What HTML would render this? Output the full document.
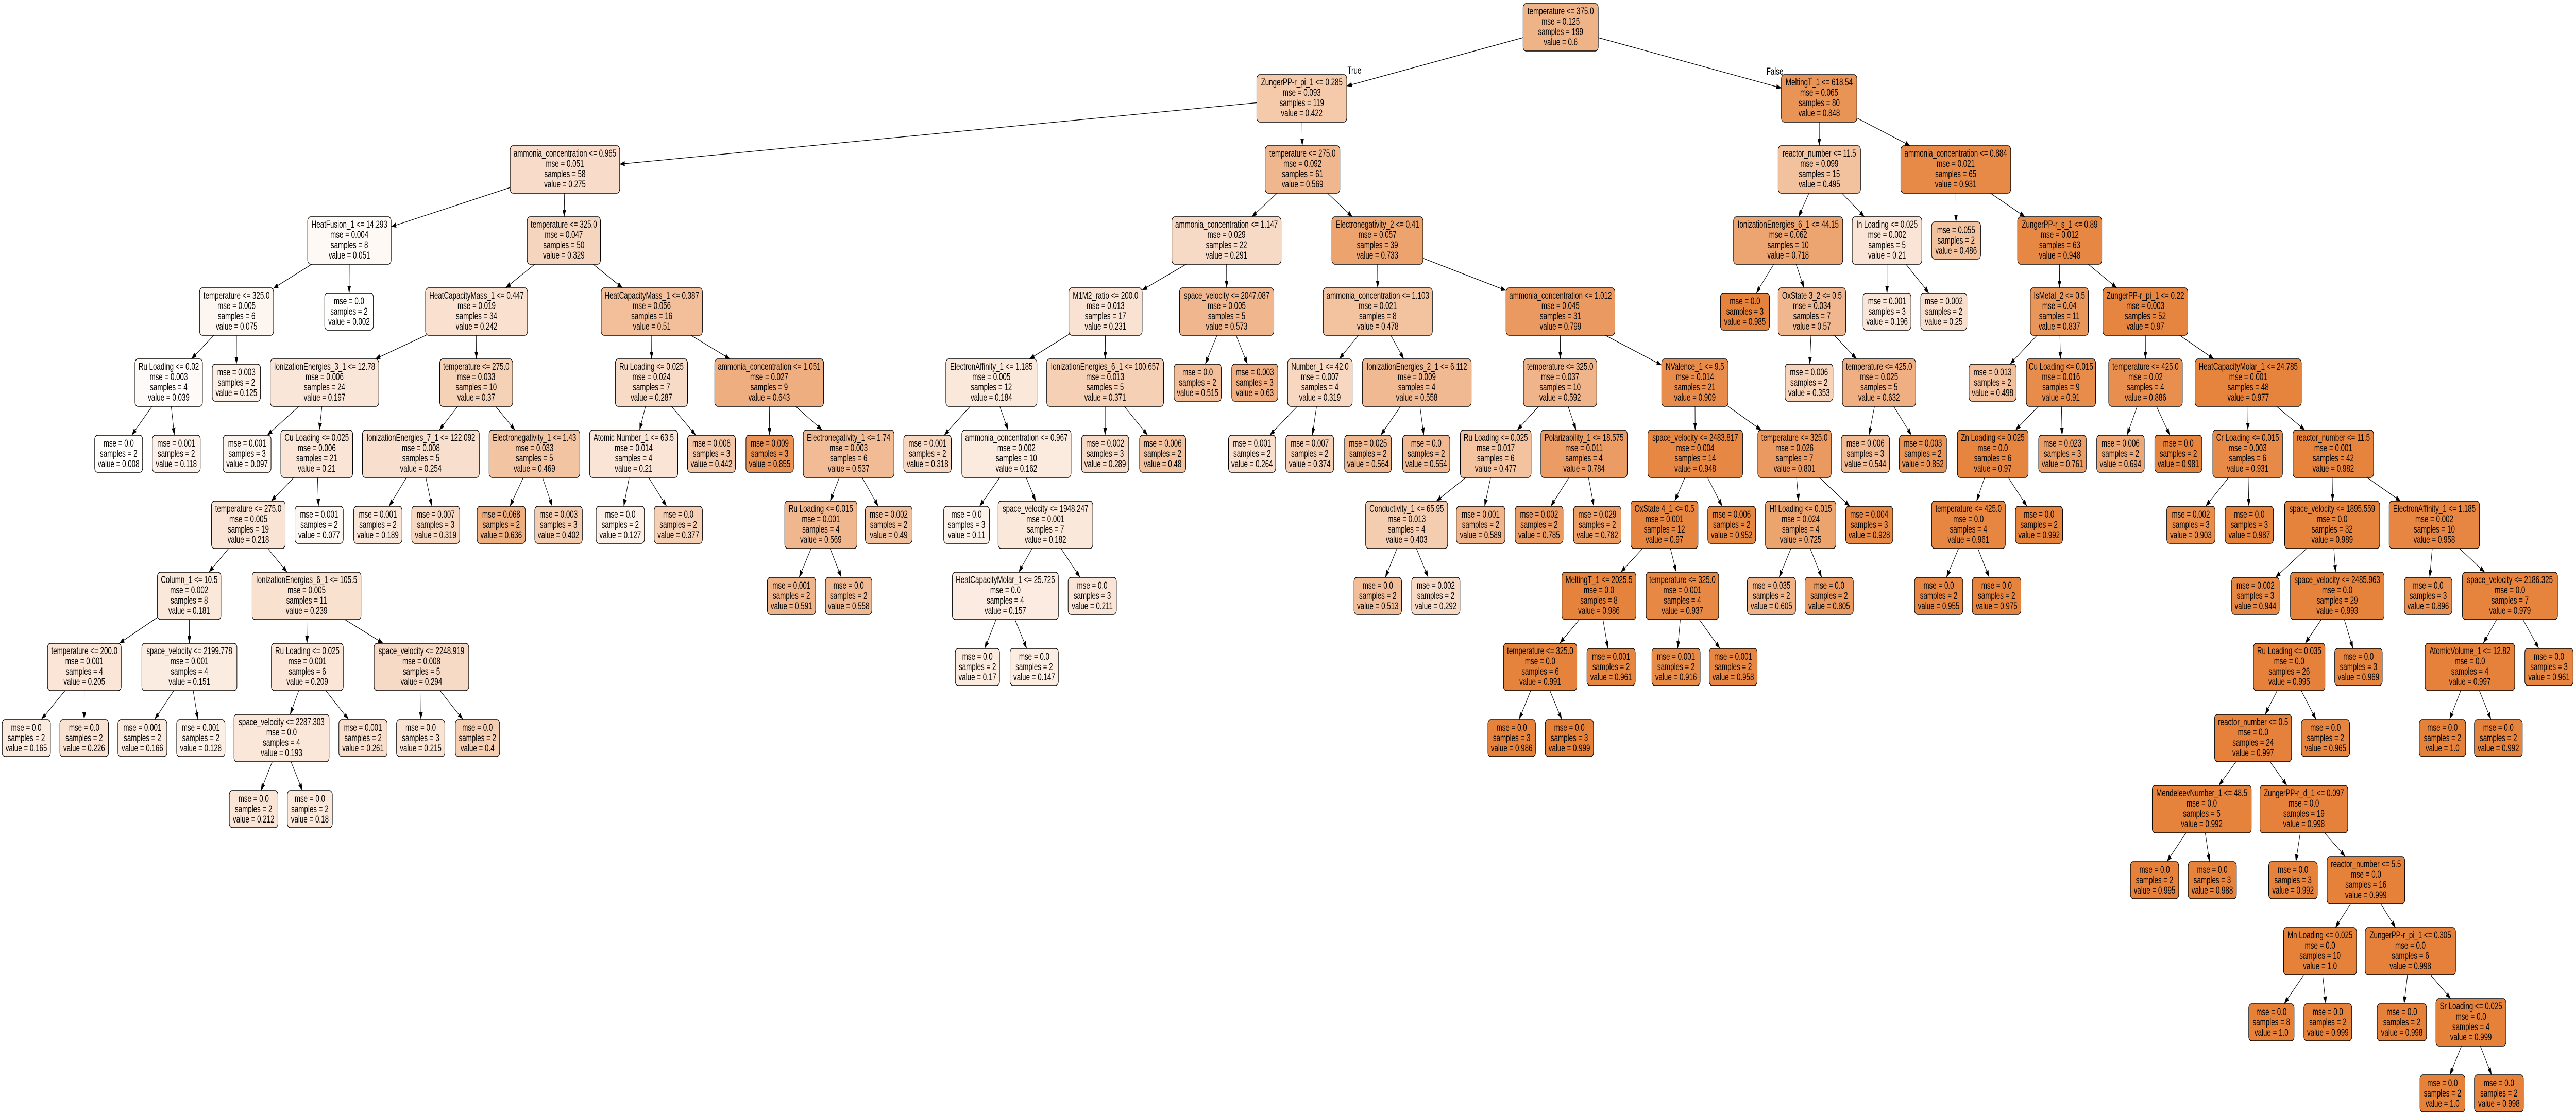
<!DOCTYPE html>
<html><head><meta charset="utf-8"><style>
html,body{margin:0;padding:0;background:#fff;width:100%;height:100%;overflow:hidden}
#root{display:block;width:100vw;height:100vh}
svg svg{overflow:visible}
rect{width:100%;height:100%;rx:8px;ry:8px;fill:#fff}
rect.c{fill:#e58139;stroke:#000;stroke-width:1.4}
text{font-family:"Liberation Sans",sans-serif;font-size:19px;text-anchor:middle;fill:#000}
line{stroke:#000;stroke-width:1.3}
</style></head><body>
<svg id="root" viewBox="0 0 7100 2161" preserveAspectRatio="none" xmlns="http://www.w3.org/2000/svg">
<defs><marker id="a" markerUnits="userSpaceOnUse" markerWidth="14" markerHeight="10" refX="14" refY="5" orient="auto"><path d="M0,0L14,5L0,10z" fill="#000"/></marker></defs>
<g>
<line x1="4301.5" y1="53" x2="3712" y2="167" marker-end="url(#a)"/>
<line x1="4301.5" y1="53" x2="4910" y2="171" marker-end="url(#a)"/>
<line x1="3588" y1="191" x2="1708" y2="318.7" marker-end="url(#a)"/>
<line x1="3588" y1="191" x2="3589.3" y2="283" marker-end="url(#a)"/>
<line x1="5014" y1="191" x2="5014.3" y2="283" marker-end="url(#a)"/>
<line x1="5014" y1="191" x2="5265" y2="283" marker-end="url(#a)"/>
<line x1="1557" y1="329" x2="1078" y2="440.3" marker-end="url(#a)"/>
<line x1="1557" y1="329" x2="1555" y2="421" marker-end="url(#a)"/>
<line x1="3590" y1="329" x2="3450.3" y2="421" marker-end="url(#a)"/>
<line x1="3590" y1="329" x2="3727.7" y2="421" marker-end="url(#a)"/>
<line x1="5014.5" y1="329" x2="4957.2" y2="421" marker-end="url(#a)"/>
<line x1="5014.5" y1="329" x2="5138.8" y2="421" marker-end="url(#a)"/>
<line x1="5390.5" y1="329" x2="5391.2" y2="431" marker-end="url(#a)"/>
<line x1="5390.5" y1="329" x2="5581.5" y2="421" marker-end="url(#a)"/>
<line x1="963" y1="467" x2="753" y2="560" marker-end="url(#a)"/>
<line x1="963" y1="467" x2="962.3" y2="569" marker-end="url(#a)"/>
<line x1="1554" y1="467" x2="1393.7" y2="559" marker-end="url(#a)"/>
<line x1="1554" y1="467" x2="1715.7" y2="559" marker-end="url(#a)"/>
<line x1="3380.5" y1="467" x2="3148" y2="563.2" marker-end="url(#a)"/>
<line x1="3380.5" y1="467" x2="3380.8" y2="559" marker-end="url(#a)"/>
<line x1="3796.5" y1="467" x2="3797.2" y2="559" marker-end="url(#a)"/>
<line x1="3796.5" y1="467" x2="4151" y2="564" marker-end="url(#a)"/>
<line x1="4928.5" y1="467" x2="4840.6" y2="569" marker-end="url(#a)"/>
<line x1="4928.5" y1="467" x2="4972.2" y2="559" marker-end="url(#a)"/>
<line x1="5201" y1="467" x2="5201" y2="569" marker-end="url(#a)"/>
<line x1="5201" y1="467" x2="5316.7" y2="569" marker-end="url(#a)"/>
<line x1="5677" y1="467" x2="5676.3" y2="559" marker-end="url(#a)"/>
<line x1="5677" y1="467" x2="5834.3" y2="559" marker-end="url(#a)"/>
<line x1="652" y1="605" x2="527.3" y2="697" marker-end="url(#a)"/>
<line x1="652" y1="605" x2="651.6" y2="707" marker-end="url(#a)"/>
<line x1="1313.5" y1="605" x2="1034.2" y2="697" marker-end="url(#a)"/>
<line x1="1313.5" y1="605" x2="1312.8" y2="697" marker-end="url(#a)"/>
<line x1="1796.5" y1="605" x2="1795.8" y2="697" marker-end="url(#a)"/>
<line x1="1796.5" y1="605" x2="2012.2" y2="697" marker-end="url(#a)"/>
<line x1="3047" y1="605" x2="2837.3" y2="697" marker-end="url(#a)"/>
<line x1="3047" y1="605" x2="3046.3" y2="697" marker-end="url(#a)"/>
<line x1="3381" y1="605" x2="3321.9" y2="707" marker-end="url(#a)"/>
<line x1="3381" y1="605" x2="3438.3" y2="707" marker-end="url(#a)"/>
<line x1="3797.5" y1="605" x2="3691.2" y2="697" marker-end="url(#a)"/>
<line x1="3797.5" y1="605" x2="3869.2" y2="697" marker-end="url(#a)"/>
<line x1="4301" y1="605" x2="4300.3" y2="697" marker-end="url(#a)"/>
<line x1="4301" y1="605" x2="4580" y2="709" marker-end="url(#a)"/>
<line x1="4994" y1="605" x2="4988.1" y2="707" marker-end="url(#a)"/>
<line x1="4994" y1="605" x2="5117.3" y2="697" marker-end="url(#a)"/>
<line x1="5676" y1="605" x2="5540" y2="707" marker-end="url(#a)"/>
<line x1="5676" y1="605" x2="5679" y2="697" marker-end="url(#a)"/>
<line x1="5913" y1="605" x2="5913.3" y2="697" marker-end="url(#a)"/>
<line x1="5913" y1="605" x2="6102" y2="697" marker-end="url(#a)"/>
<line x1="465" y1="743" x2="363" y2="845" marker-end="url(#a)"/>
<line x1="465" y1="743" x2="480.5" y2="845" marker-end="url(#a)"/>
<line x1="894.5" y1="743" x2="736.7" y2="845" marker-end="url(#a)"/>
<line x1="894.5" y1="743" x2="880.2" y2="835" marker-end="url(#a)"/>
<line x1="1312.5" y1="743" x2="1210.8" y2="835" marker-end="url(#a)"/>
<line x1="1312.5" y1="743" x2="1419.5" y2="835" marker-end="url(#a)"/>
<line x1="1795.5" y1="743" x2="1762.8" y2="835" marker-end="url(#a)"/>
<line x1="1795.5" y1="743" x2="1917.8" y2="845" marker-end="url(#a)"/>
<line x1="2120" y1="743" x2="2121.1" y2="845" marker-end="url(#a)"/>
<line x1="2120" y1="743" x2="2266" y2="835" marker-end="url(#a)"/>
<line x1="2732.5" y1="743" x2="2602.4" y2="845" marker-end="url(#a)"/>
<line x1="2732.5" y1="743" x2="2778.5" y2="835" marker-end="url(#a)"/>
<line x1="3046" y1="743" x2="3046" y2="845" marker-end="url(#a)"/>
<line x1="3046" y1="743" x2="3163.2" y2="845" marker-end="url(#a)"/>
<line x1="3638" y1="743" x2="3499.8" y2="845" marker-end="url(#a)"/>
<line x1="3638" y1="743" x2="3617.3" y2="845" marker-end="url(#a)"/>
<line x1="3905" y1="743" x2="3805.6" y2="845" marker-end="url(#a)"/>
<line x1="3905" y1="743" x2="3924.2" y2="845" marker-end="url(#a)"/>
<line x1="4300" y1="743" x2="4181.7" y2="835" marker-end="url(#a)"/>
<line x1="4300" y1="743" x2="4344" y2="835" marker-end="url(#a)"/>
<line x1="4671.5" y1="743" x2="4672.2" y2="835" marker-end="url(#a)"/>
<line x1="4671.5" y1="743" x2="4854.5" y2="835" marker-end="url(#a)"/>
<line x1="5179" y1="743" x2="5151.3" y2="845" marker-end="url(#a)"/>
<line x1="5179" y1="743" x2="5268.4" y2="845" marker-end="url(#a)"/>
<line x1="5680.5" y1="743" x2="5555.2" y2="835" marker-end="url(#a)"/>
<line x1="5680.5" y1="743" x2="5683.5" y2="845" marker-end="url(#a)"/>
<line x1="5913.5" y1="743" x2="5862.5" y2="845" marker-end="url(#a)"/>
<line x1="5913.5" y1="743" x2="5980.4" y2="845" marker-end="url(#a)"/>
<line x1="6196.5" y1="743" x2="6195.5" y2="835" marker-end="url(#a)"/>
<line x1="6196.5" y1="743" x2="6352.8" y2="835" marker-end="url(#a)"/>
<line x1="873" y1="881" x2="747.3" y2="973" marker-end="url(#a)"/>
<line x1="873" y1="881" x2="877.8" y2="983" marker-end="url(#a)"/>
<line x1="1160" y1="881" x2="1072.4" y2="983" marker-end="url(#a)"/>
<line x1="1160" y1="881" x2="1190.3" y2="983" marker-end="url(#a)"/>
<line x1="1473" y1="881" x2="1405.4" y2="983" marker-end="url(#a)"/>
<line x1="1473" y1="881" x2="1522.1" y2="983" marker-end="url(#a)"/>
<line x1="1746.5" y1="881" x2="1719.2" y2="983" marker-end="url(#a)"/>
<line x1="1746.5" y1="881" x2="1837.4" y2="983" marker-end="url(#a)"/>
<line x1="2339" y1="881" x2="2288" y2="973" marker-end="url(#a)"/>
<line x1="2339" y1="881" x2="2420.7" y2="983" marker-end="url(#a)"/>
<line x1="2801.5" y1="881" x2="2699.9" y2="983" marker-end="url(#a)"/>
<line x1="2801.5" y1="881" x2="2854.8" y2="973" marker-end="url(#a)"/>
<line x1="4122.5" y1="881" x2="3958.8" y2="973" marker-end="url(#a)"/>
<line x1="4122.5" y1="881" x2="4091.8" y2="983" marker-end="url(#a)"/>
<line x1="4366" y1="881" x2="4274.3" y2="983" marker-end="url(#a)"/>
<line x1="4366" y1="881" x2="4393" y2="983" marker-end="url(#a)"/>
<line x1="4672.5" y1="881" x2="4615.8" y2="973" marker-end="url(#a)"/>
<line x1="4672.5" y1="881" x2="4746.8" y2="983" marker-end="url(#a)"/>
<line x1="4946" y1="881" x2="4957.3" y2="973" marker-end="url(#a)"/>
<line x1="4946" y1="881" x2="5098.3" y2="983" marker-end="url(#a)"/>
<line x1="5492.5" y1="881" x2="5447.8" y2="973" marker-end="url(#a)"/>
<line x1="5492.5" y1="881" x2="5586.7" y2="983" marker-end="url(#a)"/>
<line x1="6195" y1="881" x2="6079.3" y2="983" marker-end="url(#a)"/>
<line x1="6195" y1="881" x2="6198.3" y2="983" marker-end="url(#a)"/>
<line x1="6431" y1="881" x2="6429" y2="973" marker-end="url(#a)"/>
<line x1="6431" y1="881" x2="6616.7" y2="973" marker-end="url(#a)"/>
<line x1="684.5" y1="1019" x2="575.8" y2="1111" marker-end="url(#a)"/>
<line x1="684.5" y1="1019" x2="791.5" y2="1111" marker-end="url(#a)"/>
<line x1="2262.5" y1="1019" x2="2202.6" y2="1121" marker-end="url(#a)"/>
<line x1="2262.5" y1="1019" x2="2319" y2="1121" marker-end="url(#a)"/>
<line x1="2881.5" y1="1019" x2="2807.8" y2="1111" marker-end="url(#a)"/>
<line x1="2881.5" y1="1019" x2="2976.8" y2="1121" marker-end="url(#a)"/>
<line x1="3877" y1="1019" x2="3818.2" y2="1121" marker-end="url(#a)"/>
<line x1="3877" y1="1019" x2="3936.5" y2="1121" marker-end="url(#a)"/>
<line x1="4587.5" y1="1019" x2="4467.2" y2="1111" marker-end="url(#a)"/>
<line x1="4587.5" y1="1019" x2="4620.5" y2="1111" marker-end="url(#a)"/>
<line x1="4963" y1="1019" x2="4903.5" y2="1121" marker-end="url(#a)"/>
<line x1="4963" y1="1019" x2="5021" y2="1121" marker-end="url(#a)"/>
<line x1="5425.5" y1="1019" x2="5364.9" y2="1121" marker-end="url(#a)"/>
<line x1="5425.5" y1="1019" x2="5482.8" y2="1121" marker-end="url(#a)"/>
<line x1="6428" y1="1019" x2="6271.7" y2="1121" marker-end="url(#a)"/>
<line x1="6428" y1="1019" x2="6437.3" y2="1111" marker-end="url(#a)"/>
<line x1="6709.5" y1="1019" x2="6696.9" y2="1121" marker-end="url(#a)"/>
<line x1="6709.5" y1="1019" x2="6848.5" y2="1111" marker-end="url(#a)"/>
<line x1="521.5" y1="1157" x2="328.8" y2="1249" marker-end="url(#a)"/>
<line x1="521.5" y1="1157" x2="521.8" y2="1249" marker-end="url(#a)"/>
<line x1="845" y1="1157" x2="846.3" y2="1249" marker-end="url(#a)"/>
<line x1="845" y1="1157" x2="1056" y2="1249" marker-end="url(#a)"/>
<line x1="2771" y1="1157" x2="2714.1" y2="1259" marker-end="url(#a)"/>
<line x1="2771" y1="1157" x2="2829.8" y2="1259" marker-end="url(#a)"/>
<line x1="4407" y1="1157" x2="4299" y2="1249" marker-end="url(#a)"/>
<line x1="4407" y1="1157" x2="4431.8" y2="1259" marker-end="url(#a)"/>
<line x1="4637" y1="1157" x2="4624.1" y2="1259" marker-end="url(#a)"/>
<line x1="4637" y1="1157" x2="4740.5" y2="1259" marker-end="url(#a)"/>
<line x1="6442" y1="1157" x2="6353.7" y2="1249" marker-end="url(#a)"/>
<line x1="6442" y1="1157" x2="6485.2" y2="1259" marker-end="url(#a)"/>
<line x1="6918" y1="1157" x2="6844.3" y2="1249" marker-end="url(#a)"/>
<line x1="6918" y1="1157" x2="6997.4" y2="1259" marker-end="url(#a)"/>
<line x1="232.5" y1="1295" x2="114.2" y2="1397" marker-end="url(#a)"/>
<line x1="232.5" y1="1295" x2="232.1" y2="1397" marker-end="url(#a)"/>
<line x1="522" y1="1295" x2="426.3" y2="1397" marker-end="url(#a)"/>
<line x1="522" y1="1295" x2="545.3" y2="1397" marker-end="url(#a)"/>
<line x1="847" y1="1295" x2="799.7" y2="1387" marker-end="url(#a)"/>
<line x1="847" y1="1295" x2="960.5" y2="1397" marker-end="url(#a)"/>
<line x1="1161.5" y1="1295" x2="1160" y2="1397" marker-end="url(#a)"/>
<line x1="1161.5" y1="1295" x2="1275.7" y2="1397" marker-end="url(#a)"/>
<line x1="4245" y1="1295" x2="4187" y2="1397" marker-end="url(#a)"/>
<line x1="4245" y1="1295" x2="4304.5" y2="1397" marker-end="url(#a)"/>
<line x1="6309.5" y1="1295" x2="6243.2" y2="1387" marker-end="url(#a)"/>
<line x1="6309.5" y1="1295" x2="6383.4" y2="1397" marker-end="url(#a)"/>
<line x1="6807.5" y1="1295" x2="6751.7" y2="1397" marker-end="url(#a)"/>
<line x1="6807.5" y1="1295" x2="6865.5" y2="1397" marker-end="url(#a)"/>
<line x1="776" y1="1433" x2="719.1" y2="1535" marker-end="url(#a)"/>
<line x1="776" y1="1433" x2="833.7" y2="1535" marker-end="url(#a)"/>
<line x1="6210" y1="1433" x2="6115.7" y2="1525" marker-end="url(#a)"/>
<line x1="6210" y1="1433" x2="6303.3" y2="1525" marker-end="url(#a)"/>
<line x1="6068.5" y1="1571" x2="5972.4" y2="1673" marker-end="url(#a)"/>
<line x1="6068.5" y1="1571" x2="6089.9" y2="1673" marker-end="url(#a)"/>
<line x1="6350" y1="1571" x2="6327.8" y2="1673" marker-end="url(#a)"/>
<line x1="6350" y1="1571" x2="6464" y2="1663" marker-end="url(#a)"/>
<line x1="6521" y1="1709" x2="6436.7" y2="1801" marker-end="url(#a)"/>
<line x1="6521" y1="1709" x2="6602.7" y2="1801" marker-end="url(#a)"/>
<line x1="6394.5" y1="1847" x2="6295.5" y2="1949" marker-end="url(#a)"/>
<line x1="6394.5" y1="1847" x2="6410.4" y2="1949" marker-end="url(#a)"/>
<line x1="6643.5" y1="1847" x2="6626.1" y2="1949" marker-end="url(#a)"/>
<line x1="6643.5" y1="1847" x2="6754.8" y2="1939" marker-end="url(#a)"/>
<line x1="6810.5" y1="1985" x2="6752.5" y2="2087" marker-end="url(#a)"/>
<line x1="6810.5" y1="1985" x2="6867.4" y2="2087" marker-end="url(#a)"/>
</g>
<text x="3733" y="143">True</text>
<text x="4892" y="145">False</text>

<svg x="4198" y="7" width="207" height="92"><rect/><rect class="c" style="fill-opacity:.6"/><text x="50%" y="21">temperature &lt;= 375.0</text><text x="50%" y="41">mse = 0.125</text><text x="50%" y="61">samples = 199</text><text x="50%" y="81">value = 0.6</text></svg>
<svg x="3464" y="145" width="248" height="92"><rect/><rect class="c" style="fill-opacity:.422"/><text x="50%" y="21">ZungerPP-r_pi_1 &lt;= 0.285</text><text x="50%" y="41">mse = 0.093</text><text x="50%" y="61">samples = 119</text><text x="50%" y="81">value = 0.422</text></svg>
<svg x="4910" y="145" width="208" height="92"><rect/><rect class="c" style="fill-opacity:.848"/><text x="50%" y="21">MeltingT_1 &lt;= 618.54</text><text x="50%" y="41">mse = 0.065</text><text x="50%" y="61">samples = 80</text><text x="50%" y="81">value = 0.848</text></svg>
<svg x="1406" y="283" width="302" height="92"><rect/><rect class="c" style="fill-opacity:.275"/><text x="50%" y="21">ammonia_concentration &lt;= 0.965</text><text x="50%" y="41">mse = 0.051</text><text x="50%" y="61">samples = 58</text><text x="50%" y="81">value = 0.275</text></svg>
<svg x="3487" y="283" width="206" height="92"><rect/><rect class="c" style="fill-opacity:.569"/><text x="50%" y="21">temperature &lt;= 275.0</text><text x="50%" y="41">mse = 0.092</text><text x="50%" y="61">samples = 61</text><text x="50%" y="81">value = 0.569</text></svg>
<svg x="4901" y="283" width="227" height="92"><rect/><rect class="c" style="fill-opacity:.495"/><text x="50%" y="21">reactor_number &lt;= 11.5</text><text x="50%" y="41">mse = 0.099</text><text x="50%" y="61">samples = 15</text><text x="50%" y="81">value = 0.495</text></svg>
<svg x="5239" y="283" width="303" height="92"><rect/><rect class="c" style="fill-opacity:.931"/><text x="50%" y="21">ammonia_concentration &lt;= 0.884</text><text x="50%" y="41">mse = 0.021</text><text x="50%" y="61">samples = 65</text><text x="50%" y="81">value = 0.931</text></svg>
<svg x="848" y="421" width="230" height="92"><rect/><rect class="c" style="fill-opacity:.051"/><text x="50%" y="21">HeatFusion_1 &lt;= 14.293</text><text x="50%" y="41">mse = 0.004</text><text x="50%" y="61">samples = 8</text><text x="50%" y="81">value = 0.051</text></svg>
<svg x="1453" y="421" width="202" height="92"><rect/><rect class="c" style="fill-opacity:.329"/><text x="50%" y="21">temperature &lt;= 325.0</text><text x="50%" y="41">mse = 0.047</text><text x="50%" y="61">samples = 50</text><text x="50%" y="81">value = 0.329</text></svg>
<svg x="3230" y="421" width="301" height="92"><rect/><rect class="c" style="fill-opacity:.291"/><text x="50%" y="21">ammonia_concentration &lt;= 1.147</text><text x="50%" y="41">mse = 0.029</text><text x="50%" y="61">samples = 22</text><text x="50%" y="81">value = 0.291</text></svg>
<svg x="3671" y="421" width="251" height="92"><rect/><rect class="c" style="fill-opacity:.733"/><text x="50%" y="21">Electronegativity_2 &lt;= 0.41</text><text x="50%" y="41">mse = 0.057</text><text x="50%" y="61">samples = 39</text><text x="50%" y="81">value = 0.733</text></svg>
<svg x="4778" y="421" width="301" height="92"><rect/><rect class="c" style="fill-opacity:.718"/><text x="50%" y="21">IonizationEnergies_6_1 &lt;= 44.15</text><text x="50%" y="41">mse = 0.062</text><text x="50%" y="61">samples = 10</text><text x="50%" y="81">value = 0.718</text></svg>
<svg x="5105" y="421" width="192" height="92"><rect/><rect class="c" style="fill-opacity:.21"/><text x="50%" y="21">In Loading &lt;= 0.025</text><text x="50%" y="41">mse = 0.002</text><text x="50%" y="61">samples = 5</text><text x="50%" y="81">value = 0.21</text></svg>
<svg x="5324" y="431" width="135" height="72"><rect/><rect class="c" style="fill-opacity:.486"/><text x="50%" y="22">mse = 0.055</text><text x="50%" y="42">samples = 2</text><text x="50%" y="62">value = 0.486</text></svg>
<svg x="5561" y="421" width="232" height="92"><rect/><rect class="c" style="fill-opacity:.948"/><text x="50%" y="21">ZungerPP-r_s_1 &lt;= 0.89</text><text x="50%" y="41">mse = 0.012</text><text x="50%" y="61">samples = 63</text><text x="50%" y="81">value = 0.948</text></svg>
<svg x="550" y="559" width="204" height="92"><rect/><rect class="c" style="fill-opacity:.075"/><text x="50%" y="21">temperature &lt;= 325.0</text><text x="50%" y="41">mse = 0.005</text><text x="50%" y="61">samples = 6</text><text x="50%" y="81">value = 0.075</text></svg>
<svg x="895" y="569" width="134" height="72"><rect/><rect class="c" style="fill-opacity:.002"/><text x="50%" y="22">mse = 0.0</text><text x="50%" y="42">samples = 2</text><text x="50%" y="62">value = 0.002</text></svg>
<svg x="1173" y="559" width="281" height="92"><rect/><rect class="c" style="fill-opacity:.242"/><text x="50%" y="21">HeatCapacityMass_1 &lt;= 0.447</text><text x="50%" y="41">mse = 0.019</text><text x="50%" y="61">samples = 34</text><text x="50%" y="81">value = 0.242</text></svg>
<svg x="1657" y="559" width="279" height="92"><rect/><rect class="c" style="fill-opacity:.51"/><text x="50%" y="21">HeatCapacityMass_1 &lt;= 0.387</text><text x="50%" y="41">mse = 0.056</text><text x="50%" y="61">samples = 16</text><text x="50%" y="81">value = 0.51</text></svg>
<svg x="2946" y="559" width="202" height="92"><rect/><rect class="c" style="fill-opacity:.231"/><text x="50%" y="21">M1M2_ratio &lt;= 200.0</text><text x="50%" y="41">mse = 0.013</text><text x="50%" y="61">samples = 17</text><text x="50%" y="81">value = 0.231</text></svg>
<svg x="3251" y="559" width="260" height="92"><rect/><rect class="c" style="fill-opacity:.573"/><text x="50%" y="21">space_velocity &lt;= 2047.087</text><text x="50%" y="41">mse = 0.005</text><text x="50%" y="61">samples = 5</text><text x="50%" y="81">value = 0.573</text></svg>
<svg x="3647" y="559" width="301" height="92"><rect/><rect class="c" style="fill-opacity:.478"/><text x="50%" y="21">ammonia_concentration &lt;= 1.103</text><text x="50%" y="41">mse = 0.021</text><text x="50%" y="61">samples = 8</text><text x="50%" y="81">value = 0.478</text></svg>
<svg x="4151" y="559" width="300" height="92"><rect/><rect class="c" style="fill-opacity:.799"/><text x="50%" y="21">ammonia_concentration &lt;= 1.012</text><text x="50%" y="41">mse = 0.045</text><text x="50%" y="61">samples = 31</text><text x="50%" y="81">value = 0.799</text></svg>
<svg x="4742" y="569" width="135" height="72"><rect/><rect class="c" style="fill-opacity:.985"/><text x="50%" y="22">mse = 0.0</text><text x="50%" y="42">samples = 3</text><text x="50%" y="62">value = 0.985</text></svg>
<svg x="4901" y="559" width="186" height="92"><rect/><rect class="c" style="fill-opacity:.57"/><text x="50%" y="21">OxState 3_2 &lt;= 0.5</text><text x="50%" y="41">mse = 0.034</text><text x="50%" y="61">samples = 7</text><text x="50%" y="81">value = 0.57</text></svg>
<svg x="5135" y="569" width="132" height="72"><rect/><rect class="c" style="fill-opacity:.196"/><text x="50%" y="22">mse = 0.001</text><text x="50%" y="42">samples = 3</text><text x="50%" y="62">value = 0.196</text></svg>
<svg x="5294" y="569" width="127" height="72"><rect/><rect class="c" style="fill-opacity:.25"/><text x="50%" y="22">mse = 0.002</text><text x="50%" y="42">samples = 2</text><text x="50%" y="62">value = 0.25</text></svg>
<svg x="5596" y="559" width="160" height="92"><rect/><rect class="c" style="fill-opacity:.837"/><text x="50%" y="21">IsMetal_2 &lt;= 0.5</text><text x="50%" y="41">mse = 0.04</text><text x="50%" y="61">samples = 11</text><text x="50%" y="81">value = 0.837</text></svg>
<svg x="5796" y="559" width="234" height="92"><rect/><rect class="c" style="fill-opacity:.97"/><text x="50%" y="21">ZungerPP-r_pi_1 &lt;= 0.22</text><text x="50%" y="41">mse = 0.003</text><text x="50%" y="61">samples = 52</text><text x="50%" y="81">value = 0.97</text></svg>
<svg x="372" y="697" width="186" height="92"><rect/><rect class="c" style="fill-opacity:.039"/><text x="50%" y="21">Ru Loading &lt;= 0.02</text><text x="50%" y="41">mse = 0.003</text><text x="50%" y="61">samples = 4</text><text x="50%" y="81">value = 0.039</text></svg>
<svg x="585" y="707" width="133" height="72"><rect/><rect class="c" style="fill-opacity:.125"/><text x="50%" y="22">mse = 0.003</text><text x="50%" y="42">samples = 2</text><text x="50%" y="62">value = 0.125</text></svg>
<svg x="745" y="697" width="299" height="92"><rect/><rect class="c" style="fill-opacity:.197"/><text x="50%" y="21">IonizationEnergies_3_1 &lt;= 12.78</text><text x="50%" y="41">mse = 0.006</text><text x="50%" y="61">samples = 24</text><text x="50%" y="81">value = 0.197</text></svg>
<svg x="1212" y="697" width="201" height="92"><rect/><rect class="c" style="fill-opacity:.37"/><text x="50%" y="21">temperature &lt;= 275.0</text><text x="50%" y="41">mse = 0.033</text><text x="50%" y="61">samples = 10</text><text x="50%" y="81">value = 0.37</text></svg>
<svg x="1696" y="697" width="199" height="92"><rect/><rect class="c" style="fill-opacity:.287"/><text x="50%" y="21">Ru Loading &lt;= 0.025</text><text x="50%" y="41">mse = 0.024</text><text x="50%" y="61">samples = 7</text><text x="50%" y="81">value = 0.287</text></svg>
<svg x="1970" y="697" width="300" height="92"><rect/><rect class="c" style="fill-opacity:.643"/><text x="50%" y="21">ammonia_concentration &lt;= 1.051</text><text x="50%" y="41">mse = 0.027</text><text x="50%" y="61">samples = 9</text><text x="50%" y="81">value = 0.643</text></svg>
<svg x="2607" y="697" width="251" height="92"><rect/><rect class="c" style="fill-opacity:.184"/><text x="50%" y="21">ElectronAffinity_1 &lt;= 1.185</text><text x="50%" y="41">mse = 0.005</text><text x="50%" y="61">samples = 12</text><text x="50%" y="81">value = 0.184</text></svg>
<svg x="2885" y="697" width="322" height="92"><rect/><rect class="c" style="fill-opacity:.371"/><text x="50%" y="21">IonizationEnergies_6_1 &lt;= 100.657</text><text x="50%" y="41">mse = 0.013</text><text x="50%" y="61">samples = 5</text><text x="50%" y="81">value = 0.371</text></svg>
<svg x="3236" y="707" width="130" height="72"><rect/><rect class="c" style="fill-opacity:.515"/><text x="50%" y="22">mse = 0.0</text><text x="50%" y="42">samples = 2</text><text x="50%" y="62">value = 0.515</text></svg>
<svg x="3395" y="707" width="127" height="72"><rect/><rect class="c" style="fill-opacity:.63"/><text x="50%" y="22">mse = 0.003</text><text x="50%" y="42">samples = 3</text><text x="50%" y="62">value = 0.63</text></svg>
<svg x="3549" y="697" width="178" height="92"><rect/><rect class="c" style="fill-opacity:.319"/><text x="50%" y="21">Number_1 &lt;= 42.0</text><text x="50%" y="41">mse = 0.007</text><text x="50%" y="61">samples = 4</text><text x="50%" y="81">value = 0.319</text></svg>
<svg x="3755" y="697" width="300" height="92"><rect/><rect class="c" style="fill-opacity:.558"/><text x="50%" y="21">IonizationEnergies_2_1 &lt;= 6.112</text><text x="50%" y="41">mse = 0.009</text><text x="50%" y="61">samples = 4</text><text x="50%" y="81">value = 0.558</text></svg>
<svg x="4199" y="697" width="202" height="92"><rect/><rect class="c" style="fill-opacity:.592"/><text x="50%" y="21">temperature &lt;= 325.0</text><text x="50%" y="41">mse = 0.037</text><text x="50%" y="61">samples = 10</text><text x="50%" y="81">value = 0.592</text></svg>
<svg x="4580" y="697" width="183" height="92"><rect/><rect class="c" style="fill-opacity:.909"/><text x="50%" y="21">NValence_1 &lt;= 9.5</text><text x="50%" y="41">mse = 0.014</text><text x="50%" y="61">samples = 21</text><text x="50%" y="81">value = 0.909</text></svg>
<svg x="4920" y="707" width="132" height="72"><rect/><rect class="c" style="fill-opacity:.353"/><text x="50%" y="22">mse = 0.006</text><text x="50%" y="42">samples = 2</text><text x="50%" y="62">value = 0.353</text></svg>
<svg x="5078" y="697" width="202" height="92"><rect/><rect class="c" style="fill-opacity:.632"/><text x="50%" y="21">temperature &lt;= 425.0</text><text x="50%" y="41">mse = 0.025</text><text x="50%" y="61">samples = 5</text><text x="50%" y="81">value = 0.632</text></svg>
<svg x="5427" y="707" width="130" height="72"><rect/><rect class="c" style="fill-opacity:.498"/><text x="50%" y="22">mse = 0.013</text><text x="50%" y="42">samples = 2</text><text x="50%" y="62">value = 0.498</text></svg>
<svg x="5585" y="697" width="191" height="92"><rect/><rect class="c" style="fill-opacity:.91"/><text x="50%" y="21">Cu Loading &lt;= 0.015</text><text x="50%" y="41">mse = 0.016</text><text x="50%" y="61">samples = 9</text><text x="50%" y="81">value = 0.91</text></svg>
<svg x="5812" y="697" width="203" height="92"><rect/><rect class="c" style="fill-opacity:.886"/><text x="50%" y="21">temperature &lt;= 425.0</text><text x="50%" y="41">mse = 0.02</text><text x="50%" y="61">samples = 4</text><text x="50%" y="81">value = 0.886</text></svg>
<svg x="6050" y="697" width="293" height="92"><rect/><rect class="c" style="fill-opacity:.977"/><text x="50%" y="21">HeatCapacityMolar_1 &lt;= 24.785</text><text x="50%" y="41">mse = 0.001</text><text x="50%" y="61">samples = 48</text><text x="50%" y="81">value = 0.977</text></svg>
<svg x="261" y="845" width="132" height="72"><rect/><rect class="c" style="fill-opacity:.008"/><text x="50%" y="22">mse = 0.0</text><text x="50%" y="42">samples = 2</text><text x="50%" y="62">value = 0.008</text></svg>
<svg x="420" y="845" width="132" height="72"><rect/><rect class="c" style="fill-opacity:.118"/><text x="50%" y="22">mse = 0.001</text><text x="50%" y="42">samples = 2</text><text x="50%" y="62">value = 0.118</text></svg>
<svg x="615" y="845" width="132" height="72"><rect/><rect class="c" style="fill-opacity:.097"/><text x="50%" y="22">mse = 0.001</text><text x="50%" y="42">samples = 3</text><text x="50%" y="62">value = 0.097</text></svg>
<svg x="774" y="835" width="198" height="92"><rect/><rect class="c" style="fill-opacity:.21"/><text x="50%" y="21">Cu Loading &lt;= 0.025</text><text x="50%" y="41">mse = 0.006</text><text x="50%" y="61">samples = 21</text><text x="50%" y="81">value = 0.21</text></svg>
<svg x="999" y="835" width="322" height="92"><rect/><rect class="c" style="fill-opacity:.254"/><text x="50%" y="21">IonizationEnergies_7_1 &lt;= 122.092</text><text x="50%" y="41">mse = 0.008</text><text x="50%" y="61">samples = 5</text><text x="50%" y="81">value = 0.254</text></svg>
<svg x="1348" y="835" width="250" height="92"><rect/><rect class="c" style="fill-opacity:.469"/><text x="50%" y="21">Electronegativity_1 &lt;= 1.43</text><text x="50%" y="41">mse = 0.033</text><text x="50%" y="61">samples = 5</text><text x="50%" y="81">value = 0.469</text></svg>
<svg x="1625" y="835" width="243" height="92"><rect/><rect class="c" style="fill-opacity:.21"/><text x="50%" y="21">Atomic Number_1 &lt;= 63.5</text><text x="50%" y="41">mse = 0.014</text><text x="50%" y="61">samples = 4</text><text x="50%" y="81">value = 0.21</text></svg>
<svg x="1895" y="845" width="132" height="72"><rect/><rect class="c" style="fill-opacity:.442"/><text x="50%" y="22">mse = 0.008</text><text x="50%" y="42">samples = 3</text><text x="50%" y="62">value = 0.442</text></svg>
<svg x="2056" y="845" width="131" height="72"><rect/><rect class="c" style="fill-opacity:.855"/><text x="50%" y="22">mse = 0.009</text><text x="50%" y="42">samples = 3</text><text x="50%" y="62">value = 0.855</text></svg>
<svg x="2214" y="835" width="250" height="92"><rect/><rect class="c" style="fill-opacity:.537"/><text x="50%" y="21">Electronegativity_1 &lt;= 1.74</text><text x="50%" y="41">mse = 0.003</text><text x="50%" y="61">samples = 6</text><text x="50%" y="81">value = 0.537</text></svg>
<svg x="2491" y="845" width="131" height="72"><rect/><rect class="c" style="fill-opacity:.318"/><text x="50%" y="22">mse = 0.001</text><text x="50%" y="42">samples = 2</text><text x="50%" y="62">value = 0.318</text></svg>
<svg x="2651" y="835" width="301" height="92"><rect/><rect class="c" style="fill-opacity:.162"/><text x="50%" y="21">ammonia_concentration &lt;= 0.967</text><text x="50%" y="41">mse = 0.002</text><text x="50%" y="61">samples = 10</text><text x="50%" y="81">value = 0.162</text></svg>
<svg x="2981" y="845" width="130" height="72"><rect/><rect class="c" style="fill-opacity:.289"/><text x="50%" y="22">mse = 0.002</text><text x="50%" y="42">samples = 3</text><text x="50%" y="62">value = 0.289</text></svg>
<svg x="3141" y="845" width="127" height="72"><rect/><rect class="c" style="fill-opacity:.48"/><text x="50%" y="22">mse = 0.006</text><text x="50%" y="42">samples = 2</text><text x="50%" y="62">value = 0.48</text></svg>
<svg x="3386" y="845" width="130" height="72"><rect/><rect class="c" style="fill-opacity:.264"/><text x="50%" y="22">mse = 0.001</text><text x="50%" y="42">samples = 2</text><text x="50%" y="62">value = 0.264</text></svg>
<svg x="3544" y="845" width="132" height="72"><rect/><rect class="c" style="fill-opacity:.374"/><text x="50%" y="22">mse = 0.007</text><text x="50%" y="42">samples = 2</text><text x="50%" y="62">value = 0.374</text></svg>
<svg x="3706" y="845" width="129" height="72"><rect/><rect class="c" style="fill-opacity:.564"/><text x="50%" y="22">mse = 0.025</text><text x="50%" y="42">samples = 2</text><text x="50%" y="62">value = 0.564</text></svg>
<svg x="3866" y="845" width="130" height="72"><rect/><rect class="c" style="fill-opacity:.554"/><text x="50%" y="22">mse = 0.0</text><text x="50%" y="42">samples = 2</text><text x="50%" y="62">value = 0.554</text></svg>
<svg x="4025" y="835" width="195" height="92"><rect/><rect class="c" style="fill-opacity:.477"/><text x="50%" y="21">Ru Loading &lt;= 0.025</text><text x="50%" y="41">mse = 0.017</text><text x="50%" y="61">samples = 6</text><text x="50%" y="81">value = 0.477</text></svg>
<svg x="4247" y="835" width="238" height="92"><rect/><rect class="c" style="fill-opacity:.784"/><text x="50%" y="21">Polarizability_1 &lt;= 18.575</text><text x="50%" y="41">mse = 0.011</text><text x="50%" y="61">samples = 4</text><text x="50%" y="81">value = 0.784</text></svg>
<svg x="4542" y="835" width="261" height="92"><rect/><rect class="c" style="fill-opacity:.948"/><text x="50%" y="21">space_velocity &lt;= 2483.817</text><text x="50%" y="41">mse = 0.004</text><text x="50%" y="61">samples = 14</text><text x="50%" y="81">value = 0.948</text></svg>
<svg x="4845" y="835" width="202" height="92"><rect/><rect class="c" style="fill-opacity:.801"/><text x="50%" y="21">temperature &lt;= 325.0</text><text x="50%" y="41">mse = 0.026</text><text x="50%" y="61">samples = 7</text><text x="50%" y="81">value = 0.801</text></svg>
<svg x="5075" y="845" width="133" height="72"><rect/><rect class="c" style="fill-opacity:.544"/><text x="50%" y="22">mse = 0.006</text><text x="50%" y="42">samples = 3</text><text x="50%" y="62">value = 0.544</text></svg>
<svg x="5235" y="845" width="130" height="72"><rect/><rect class="c" style="fill-opacity:.852"/><text x="50%" y="22">mse = 0.003</text><text x="50%" y="42">samples = 2</text><text x="50%" y="62">value = 0.852</text></svg>
<svg x="5395" y="835" width="195" height="92"><rect/><rect class="c" style="fill-opacity:.97"/><text x="50%" y="21">Zn Loading &lt;= 0.025</text><text x="50%" y="41">mse = 0.0</text><text x="50%" y="61">samples = 6</text><text x="50%" y="81">value = 0.97</text></svg>
<svg x="5619" y="845" width="131" height="72"><rect/><rect class="c" style="fill-opacity:.761"/><text x="50%" y="22">mse = 0.023</text><text x="50%" y="42">samples = 3</text><text x="50%" y="62">value = 0.761</text></svg>
<svg x="5779" y="845" width="131" height="72"><rect/><rect class="c" style="fill-opacity:.694"/><text x="50%" y="22">mse = 0.006</text><text x="50%" y="42">samples = 2</text><text x="50%" y="62">value = 0.694</text></svg>
<svg x="5939" y="845" width="130" height="72"><rect/><rect class="c" style="fill-opacity:.981"/><text x="50%" y="22">mse = 0.0</text><text x="50%" y="42">samples = 2</text><text x="50%" y="62">value = 0.981</text></svg>
<svg x="6099" y="835" width="192" height="92"><rect/><rect class="c" style="fill-opacity:.931"/><text x="50%" y="21">Cr Loading &lt;= 0.015</text><text x="50%" y="41">mse = 0.003</text><text x="50%" y="61">samples = 6</text><text x="50%" y="81">value = 0.931</text></svg>
<svg x="6320" y="835" width="222" height="92"><rect/><rect class="c" style="fill-opacity:.982"/><text x="50%" y="21">reactor_number &lt;= 11.5</text><text x="50%" y="41">mse = 0.001</text><text x="50%" y="61">samples = 42</text><text x="50%" y="81">value = 0.982</text></svg>
<svg x="583" y="973" width="203" height="92"><rect/><rect class="c" style="fill-opacity:.218"/><text x="50%" y="21">temperature &lt;= 275.0</text><text x="50%" y="41">mse = 0.005</text><text x="50%" y="61">samples = 19</text><text x="50%" y="81">value = 0.218</text></svg>
<svg x="813" y="983" width="133" height="72"><rect/><rect class="c" style="fill-opacity:.077"/><text x="50%" y="22">mse = 0.001</text><text x="50%" y="42">samples = 2</text><text x="50%" y="62">value = 0.077</text></svg>
<svg x="975" y="983" width="133" height="72"><rect/><rect class="c" style="fill-opacity:.189"/><text x="50%" y="22">mse = 0.001</text><text x="50%" y="42">samples = 2</text><text x="50%" y="62">value = 0.189</text></svg>
<svg x="1135" y="983" width="132" height="72"><rect/><rect class="c" style="fill-opacity:.319"/><text x="50%" y="22">mse = 0.007</text><text x="50%" y="42">samples = 3</text><text x="50%" y="62">value = 0.319</text></svg>
<svg x="1315" y="983" width="133" height="72"><rect/><rect class="c" style="fill-opacity:.636"/><text x="50%" y="22">mse = 0.068</text><text x="50%" y="42">samples = 2</text><text x="50%" y="62">value = 0.636</text></svg>
<svg x="1474" y="983" width="131" height="72"><rect/><rect class="c" style="fill-opacity:.402"/><text x="50%" y="22">mse = 0.003</text><text x="50%" y="42">samples = 3</text><text x="50%" y="62">value = 0.402</text></svg>
<svg x="1643" y="983" width="133" height="72"><rect/><rect class="c" style="fill-opacity:.127"/><text x="50%" y="22">mse = 0.0</text><text x="50%" y="42">samples = 2</text><text x="50%" y="62">value = 0.127</text></svg>
<svg x="1803" y="983" width="133" height="72"><rect/><rect class="c" style="fill-opacity:.377"/><text x="50%" y="22">mse = 0.0</text><text x="50%" y="42">samples = 2</text><text x="50%" y="62">value = 0.377</text></svg>
<svg x="2163" y="973" width="199" height="92"><rect/><rect class="c" style="fill-opacity:.569"/><text x="50%" y="21">Ru Loading &lt;= 0.015</text><text x="50%" y="41">mse = 0.001</text><text x="50%" y="61">samples = 4</text><text x="50%" y="81">value = 0.569</text></svg>
<svg x="2385" y="983" width="129" height="72"><rect/><rect class="c" style="fill-opacity:.49"/><text x="50%" y="22">mse = 0.002</text><text x="50%" y="42">samples = 2</text><text x="50%" y="62">value = 0.49</text></svg>
<svg x="2601" y="983" width="126" height="72"><rect/><rect class="c" style="fill-opacity:.11"/><text x="50%" y="22">mse = 0.0</text><text x="50%" y="42">samples = 3</text><text x="50%" y="62">value = 0.11</text></svg>
<svg x="2751" y="973" width="261" height="92"><rect/><rect class="c" style="fill-opacity:.182"/><text x="50%" y="21">space_velocity &lt;= 1948.247</text><text x="50%" y="41">mse = 0.001</text><text x="50%" y="61">samples = 7</text><text x="50%" y="81">value = 0.182</text></svg>
<svg x="3764" y="973" width="226" height="92"><rect/><rect class="c" style="fill-opacity:.403"/><text x="50%" y="21">Conductivity_1 &lt;= 65.95</text><text x="50%" y="41">mse = 0.013</text><text x="50%" y="61">samples = 4</text><text x="50%" y="81">value = 0.403</text></svg>
<svg x="4014" y="983" width="134" height="72"><rect/><rect class="c" style="fill-opacity:.589"/><text x="50%" y="22">mse = 0.001</text><text x="50%" y="42">samples = 2</text><text x="50%" y="62">value = 0.589</text></svg>
<svg x="4176" y="983" width="132" height="72"><rect/><rect class="c" style="fill-opacity:.785"/><text x="50%" y="22">mse = 0.002</text><text x="50%" y="42">samples = 2</text><text x="50%" y="62">value = 0.785</text></svg>
<svg x="4337" y="983" width="131" height="72"><rect/><rect class="c" style="fill-opacity:.782"/><text x="50%" y="22">mse = 0.029</text><text x="50%" y="42">samples = 2</text><text x="50%" y="62">value = 0.782</text></svg>
<svg x="4495" y="973" width="185" height="92"><rect/><rect class="c" style="fill-opacity:.97"/><text x="50%" y="21">OxState 4_1 &lt;= 0.5</text><text x="50%" y="41">mse = 0.001</text><text x="50%" y="61">samples = 12</text><text x="50%" y="81">value = 0.97</text></svg>
<svg x="4707" y="983" width="132" height="72"><rect/><rect class="c" style="fill-opacity:.952"/><text x="50%" y="22">mse = 0.006</text><text x="50%" y="42">samples = 2</text><text x="50%" y="62">value = 0.952</text></svg>
<svg x="4866" y="973" width="194" height="92"><rect/><rect class="c" style="fill-opacity:.725"/><text x="50%" y="21">Hf Loading &lt;= 0.015</text><text x="50%" y="41">mse = 0.024</text><text x="50%" y="61">samples = 4</text><text x="50%" y="81">value = 0.725</text></svg>
<svg x="5087" y="983" width="130" height="72"><rect/><rect class="c" style="fill-opacity:.928"/><text x="50%" y="22">mse = 0.004</text><text x="50%" y="42">samples = 3</text><text x="50%" y="62">value = 0.928</text></svg>
<svg x="5324" y="973" width="203" height="92"><rect/><rect class="c" style="fill-opacity:.961"/><text x="50%" y="21">temperature &lt;= 425.0</text><text x="50%" y="41">mse = 0.0</text><text x="50%" y="61">samples = 4</text><text x="50%" y="81">value = 0.961</text></svg>
<svg x="5555" y="983" width="130" height="72"><rect/><rect class="c" style="fill-opacity:.992"/><text x="50%" y="22">mse = 0.0</text><text x="50%" y="42">samples = 2</text><text x="50%" y="62">value = 0.992</text></svg>
<svg x="5972" y="983" width="133" height="72"><rect/><rect class="c" style="fill-opacity:.903"/><text x="50%" y="22">mse = 0.002</text><text x="50%" y="42">samples = 3</text><text x="50%" y="62">value = 0.903</text></svg>
<svg x="6133" y="983" width="133" height="72"><rect/><rect class="c" style="fill-opacity:.987"/><text x="50%" y="22">mse = 0.0</text><text x="50%" y="42">samples = 3</text><text x="50%" y="62">value = 0.987</text></svg>
<svg x="6297" y="973" width="262" height="92"><rect/><rect class="c" style="fill-opacity:.989"/><text x="50%" y="21">space_velocity &lt;= 1895.559</text><text x="50%" y="41">mse = 0.0</text><text x="50%" y="61">samples = 32</text><text x="50%" y="81">value = 0.989</text></svg>
<svg x="6585" y="973" width="249" height="92"><rect/><rect class="c" style="fill-opacity:.958"/><text x="50%" y="21">ElectronAffinity_1 &lt;= 1.185</text><text x="50%" y="41">mse = 0.002</text><text x="50%" y="61">samples = 10</text><text x="50%" y="81">value = 0.958</text></svg>
<svg x="434" y="1111" width="175" height="92"><rect/><rect class="c" style="fill-opacity:.181"/><text x="50%" y="21">Column_1 &lt;= 10.5</text><text x="50%" y="41">mse = 0.002</text><text x="50%" y="61">samples = 8</text><text x="50%" y="81">value = 0.181</text></svg>
<svg x="695" y="1111" width="300" height="92"><rect/><rect class="c" style="fill-opacity:.239"/><text x="50%" y="21">IonizationEnergies_6_1 &lt;= 105.5</text><text x="50%" y="41">mse = 0.005</text><text x="50%" y="61">samples = 11</text><text x="50%" y="81">value = 0.239</text></svg>
<svg x="2115" y="1121" width="133" height="72"><rect/><rect class="c" style="fill-opacity:.591"/><text x="50%" y="22">mse = 0.001</text><text x="50%" y="42">samples = 2</text><text x="50%" y="62">value = 0.591</text></svg>
<svg x="2275" y="1121" width="128" height="72"><rect/><rect class="c" style="fill-opacity:.558"/><text x="50%" y="22">mse = 0.0</text><text x="50%" y="42">samples = 2</text><text x="50%" y="62">value = 0.558</text></svg>
<svg x="2625" y="1111" width="292" height="92"><rect/><rect class="c" style="fill-opacity:.157"/><text x="50%" y="21">HeatCapacityMolar_1 &lt;= 25.725</text><text x="50%" y="41">mse = 0.0</text><text x="50%" y="61">samples = 4</text><text x="50%" y="81">value = 0.157</text></svg>
<svg x="2944" y="1121" width="133" height="72"><rect/><rect class="c" style="fill-opacity:.211"/><text x="50%" y="22">mse = 0.0</text><text x="50%" y="42">samples = 3</text><text x="50%" y="62">value = 0.211</text></svg>
<svg x="3732" y="1121" width="131" height="72"><rect/><rect class="c" style="fill-opacity:.513"/><text x="50%" y="22">mse = 0.0</text><text x="50%" y="42">samples = 2</text><text x="50%" y="62">value = 0.513</text></svg>
<svg x="3891" y="1121" width="133" height="72"><rect/><rect class="c" style="fill-opacity:.292"/><text x="50%" y="22">mse = 0.002</text><text x="50%" y="42">samples = 2</text><text x="50%" y="62">value = 0.292</text></svg>
<svg x="4305" y="1111" width="204" height="92"><rect/><rect class="c" style="fill-opacity:.986"/><text x="50%" y="21">MeltingT_1 &lt;= 2025.5</text><text x="50%" y="41">mse = 0.0</text><text x="50%" y="61">samples = 8</text><text x="50%" y="81">value = 0.986</text></svg>
<svg x="4537" y="1111" width="200" height="92"><rect/><rect class="c" style="fill-opacity:.937"/><text x="50%" y="21">temperature &lt;= 325.0</text><text x="50%" y="41">mse = 0.001</text><text x="50%" y="61">samples = 4</text><text x="50%" y="81">value = 0.937</text></svg>
<svg x="4816" y="1121" width="133" height="72"><rect/><rect class="c" style="fill-opacity:.605"/><text x="50%" y="22">mse = 0.035</text><text x="50%" y="42">samples = 2</text><text x="50%" y="62">value = 0.605</text></svg>
<svg x="4975" y="1121" width="133" height="72"><rect/><rect class="c" style="fill-opacity:.805"/><text x="50%" y="22">mse = 0.0</text><text x="50%" y="42">samples = 2</text><text x="50%" y="62">value = 0.805</text></svg>
<svg x="5277" y="1121" width="133" height="72"><rect/><rect class="c" style="fill-opacity:.955"/><text x="50%" y="22">mse = 0.0</text><text x="50%" y="42">samples = 2</text><text x="50%" y="62">value = 0.955</text></svg>
<svg x="5436" y="1121" width="134" height="72"><rect/><rect class="c" style="fill-opacity:.975"/><text x="50%" y="22">mse = 0.0</text><text x="50%" y="42">samples = 2</text><text x="50%" y="62">value = 0.975</text></svg>
<svg x="6151" y="1121" width="131" height="72"><rect/><rect class="c" style="fill-opacity:.944"/><text x="50%" y="22">mse = 0.002</text><text x="50%" y="42">samples = 3</text><text x="50%" y="62">value = 0.944</text></svg>
<svg x="6313" y="1111" width="258" height="92"><rect/><rect class="c" style="fill-opacity:.993"/><text x="50%" y="21">space_velocity &lt;= 2485.963</text><text x="50%" y="41">mse = 0.0</text><text x="50%" y="61">samples = 29</text><text x="50%" y="81">value = 0.993</text></svg>
<svg x="6627" y="1121" width="131" height="72"><rect/><rect class="c" style="fill-opacity:.896"/><text x="50%" y="22">mse = 0.0</text><text x="50%" y="42">samples = 3</text><text x="50%" y="62">value = 0.896</text></svg>
<svg x="6787" y="1111" width="262" height="92"><rect/><rect class="c" style="fill-opacity:.979"/><text x="50%" y="21">space_velocity &lt;= 2186.325</text><text x="50%" y="41">mse = 0.0</text><text x="50%" y="61">samples = 7</text><text x="50%" y="81">value = 0.979</text></svg>
<svg x="131" y="1249" width="203" height="92"><rect/><rect class="c" style="fill-opacity:.205"/><text x="50%" y="21">temperature &lt;= 200.0</text><text x="50%" y="41">mse = 0.001</text><text x="50%" y="61">samples = 4</text><text x="50%" y="81">value = 0.205</text></svg>
<svg x="391" y="1249" width="262" height="92"><rect/><rect class="c" style="fill-opacity:.151"/><text x="50%" y="21">space_velocity &lt;= 2199.778</text><text x="50%" y="41">mse = 0.001</text><text x="50%" y="61">samples = 4</text><text x="50%" y="81">value = 0.151</text></svg>
<svg x="748" y="1249" width="198" height="92"><rect/><rect class="c" style="fill-opacity:.209"/><text x="50%" y="21">Ru Loading &lt;= 0.025</text><text x="50%" y="41">mse = 0.001</text><text x="50%" y="61">samples = 6</text><text x="50%" y="81">value = 0.209</text></svg>
<svg x="1031" y="1249" width="261" height="92"><rect/><rect class="c" style="fill-opacity:.294"/><text x="50%" y="21">space_velocity &lt;= 2248.919</text><text x="50%" y="41">mse = 0.008</text><text x="50%" y="61">samples = 5</text><text x="50%" y="81">value = 0.294</text></svg>
<svg x="2633" y="1259" width="122" height="72"><rect/><rect class="c" style="fill-opacity:.17"/><text x="50%" y="22">mse = 0.0</text><text x="50%" y="42">samples = 2</text><text x="50%" y="62">value = 0.17</text></svg>
<svg x="2784" y="1259" width="133" height="72"><rect/><rect class="c" style="fill-opacity:.147"/><text x="50%" y="22">mse = 0.0</text><text x="50%" y="42">samples = 2</text><text x="50%" y="62">value = 0.147</text></svg>
<svg x="4144" y="1249" width="202" height="92"><rect/><rect class="c" style="fill-opacity:.991"/><text x="50%" y="21">temperature &lt;= 325.0</text><text x="50%" y="41">mse = 0.0</text><text x="50%" y="61">samples = 6</text><text x="50%" y="81">value = 0.991</text></svg>
<svg x="4374" y="1259" width="133" height="72"><rect/><rect class="c" style="fill-opacity:.961"/><text x="50%" y="22">mse = 0.001</text><text x="50%" y="42">samples = 2</text><text x="50%" y="62">value = 0.961</text></svg>
<svg x="4553" y="1259" width="133" height="72"><rect/><rect class="c" style="fill-opacity:.916"/><text x="50%" y="22">mse = 0.001</text><text x="50%" y="42">samples = 2</text><text x="50%" y="62">value = 0.916</text></svg>
<svg x="4711" y="1259" width="132" height="72"><rect/><rect class="c" style="fill-opacity:.958"/><text x="50%" y="22">mse = 0.001</text><text x="50%" y="42">samples = 2</text><text x="50%" y="62">value = 0.958</text></svg>
<svg x="6211" y="1249" width="197" height="92"><rect/><rect class="c" style="fill-opacity:.995"/><text x="50%" y="21">Ru Loading &lt;= 0.035</text><text x="50%" y="41">mse = 0.0</text><text x="50%" y="61">samples = 26</text><text x="50%" y="81">value = 0.995</text></svg>
<svg x="6435" y="1259" width="131" height="72"><rect/><rect class="c" style="fill-opacity:.969"/><text x="50%" y="22">mse = 0.0</text><text x="50%" y="42">samples = 3</text><text x="50%" y="62">value = 0.969</text></svg>
<svg x="6684" y="1249" width="247" height="92"><rect/><rect class="c" style="fill-opacity:.997"/><text x="50%" y="21">AtomicVolume_1 &lt;= 12.82</text><text x="50%" y="41">mse = 0.0</text><text x="50%" y="61">samples = 4</text><text x="50%" y="81">value = 0.997</text></svg>
<svg x="6959" y="1259" width="133" height="72"><rect/><rect class="c" style="fill-opacity:.961"/><text x="50%" y="22">mse = 0.0</text><text x="50%" y="42">samples = 3</text><text x="50%" y="62">value = 0.961</text></svg>
<svg x="6" y="1397" width="133" height="72"><rect/><rect class="c" style="fill-opacity:.165"/><text x="50%" y="22">mse = 0.0</text><text x="50%" y="42">samples = 2</text><text x="50%" y="62">value = 0.165</text></svg>
<svg x="165" y="1397" width="134" height="72"><rect/><rect class="c" style="fill-opacity:.226"/><text x="50%" y="22">mse = 0.0</text><text x="50%" y="42">samples = 2</text><text x="50%" y="62">value = 0.226</text></svg>
<svg x="325" y="1397" width="135" height="72"><rect/><rect class="c" style="fill-opacity:.166"/><text x="50%" y="22">mse = 0.001</text><text x="50%" y="42">samples = 2</text><text x="50%" y="62">value = 0.166</text></svg>
<svg x="487" y="1397" width="133" height="72"><rect/><rect class="c" style="fill-opacity:.128"/><text x="50%" y="22">mse = 0.001</text><text x="50%" y="42">samples = 2</text><text x="50%" y="62">value = 0.128</text></svg>
<svg x="645" y="1387" width="262" height="92"><rect/><rect class="c" style="fill-opacity:.193"/><text x="50%" y="21">space_velocity &lt;= 2287.303</text><text x="50%" y="41">mse = 0.0</text><text x="50%" y="61">samples = 4</text><text x="50%" y="81">value = 0.193</text></svg>
<svg x="934" y="1397" width="133" height="72"><rect/><rect class="c" style="fill-opacity:.261"/><text x="50%" y="22">mse = 0.001</text><text x="50%" y="42">samples = 2</text><text x="50%" y="62">value = 0.261</text></svg>
<svg x="1093" y="1397" width="133" height="72"><rect/><rect class="c" style="fill-opacity:.215"/><text x="50%" y="22">mse = 0.0</text><text x="50%" y="42">samples = 3</text><text x="50%" y="62">value = 0.215</text></svg>
<svg x="1255" y="1397" width="122" height="72"><rect/><rect class="c" style="fill-opacity:.4"/><text x="50%" y="22">mse = 0.0</text><text x="50%" y="42">samples = 2</text><text x="50%" y="62">value = 0.4</text></svg>
<svg x="4101" y="1397" width="131" height="72"><rect/><rect class="c" style="fill-opacity:.986"/><text x="50%" y="22">mse = 0.0</text><text x="50%" y="42">samples = 3</text><text x="50%" y="62">value = 0.986</text></svg>
<svg x="4259" y="1397" width="133" height="72"><rect/><rect class="c" style="fill-opacity:.999"/><text x="50%" y="22">mse = 0.0</text><text x="50%" y="42">samples = 3</text><text x="50%" y="62">value = 0.999</text></svg>
<svg x="6104" y="1387" width="212" height="92"><rect/><rect class="c" style="fill-opacity:.997"/><text x="50%" y="21">reactor_number &lt;= 0.5</text><text x="50%" y="41">mse = 0.0</text><text x="50%" y="61">samples = 24</text><text x="50%" y="81">value = 0.997</text></svg>
<svg x="6343" y="1397" width="133" height="72"><rect/><rect class="c" style="fill-opacity:.965"/><text x="50%" y="22">mse = 0.0</text><text x="50%" y="42">samples = 2</text><text x="50%" y="62">value = 0.965</text></svg>
<svg x="6668" y="1397" width="128" height="72"><rect/><rect class="c" style="fill-opacity:1"/><text x="50%" y="22">mse = 0.0</text><text x="50%" y="42">samples = 2</text><text x="50%" y="62">value = 1.0</text></svg>
<svg x="6820" y="1397" width="132" height="72"><rect/><rect class="c" style="fill-opacity:.992"/><text x="50%" y="22">mse = 0.0</text><text x="50%" y="42">samples = 2</text><text x="50%" y="62">value = 0.992</text></svg>
<svg x="632" y="1535" width="134" height="72"><rect/><rect class="c" style="fill-opacity:.212"/><text x="50%" y="22">mse = 0.0</text><text x="50%" y="42">samples = 2</text><text x="50%" y="62">value = 0.212</text></svg>
<svg x="792" y="1535" width="124" height="72"><rect/><rect class="c" style="fill-opacity:.18"/><text x="50%" y="22">mse = 0.0</text><text x="50%" y="42">samples = 2</text><text x="50%" y="62">value = 0.18</text></svg>
<svg x="5932" y="1525" width="273" height="92"><rect/><rect class="c" style="fill-opacity:.992"/><text x="50%" y="21">MendeleevNumber_1 &lt;= 48.5</text><text x="50%" y="41">mse = 0.0</text><text x="50%" y="61">samples = 5</text><text x="50%" y="81">value = 0.992</text></svg>
<svg x="6229" y="1525" width="242" height="92"><rect/><rect class="c" style="fill-opacity:.998"/><text x="50%" y="21">ZungerPP-r_d_1 &lt;= 0.097</text><text x="50%" y="41">mse = 0.0</text><text x="50%" y="61">samples = 19</text><text x="50%" y="81">value = 0.998</text></svg>
<svg x="5872" y="1673" width="133" height="72"><rect/><rect class="c" style="fill-opacity:.995"/><text x="50%" y="22">mse = 0.0</text><text x="50%" y="42">samples = 2</text><text x="50%" y="62">value = 0.995</text></svg>
<svg x="6031" y="1673" width="133" height="72"><rect/><rect class="c" style="fill-opacity:.988"/><text x="50%" y="22">mse = 0.0</text><text x="50%" y="42">samples = 3</text><text x="50%" y="62">value = 0.988</text></svg>
<svg x="6253" y="1673" width="134" height="72"><rect/><rect class="c" style="fill-opacity:.992"/><text x="50%" y="22">mse = 0.0</text><text x="50%" y="42">samples = 3</text><text x="50%" y="62">value = 0.992</text></svg>
<svg x="6414" y="1663" width="214" height="92"><rect/><rect class="c" style="fill-opacity:.999"/><text x="50%" y="21">reactor_number &lt;= 5.5</text><text x="50%" y="41">mse = 0.0</text><text x="50%" y="61">samples = 16</text><text x="50%" y="81">value = 0.999</text></svg>
<svg x="6294" y="1801" width="201" height="92"><rect/><rect class="c" style="fill-opacity:1"/><text x="50%" y="21">Mn Loading &lt;= 0.025</text><text x="50%" y="41">mse = 0.0</text><text x="50%" y="61">samples = 10</text><text x="50%" y="81">value = 1.0</text></svg>
<svg x="6519" y="1801" width="249" height="92"><rect/><rect class="c" style="fill-opacity:.998"/><text x="50%" y="21">ZungerPP-r_pi_1 &lt;= 0.305</text><text x="50%" y="41">mse = 0.0</text><text x="50%" y="61">samples = 6</text><text x="50%" y="81">value = 0.998</text></svg>
<svg x="6198" y="1949" width="125" height="72"><rect/><rect class="c" style="fill-opacity:1"/><text x="50%" y="22">mse = 0.0</text><text x="50%" y="42">samples = 8</text><text x="50%" y="62">value = 1.0</text></svg>
<svg x="6350" y="1949" width="132" height="72"><rect/><rect class="c" style="fill-opacity:.999"/><text x="50%" y="22">mse = 0.0</text><text x="50%" y="42">samples = 2</text><text x="50%" y="62">value = 0.999</text></svg>
<svg x="6552" y="1949" width="136" height="72"><rect/><rect class="c" style="fill-opacity:.998"/><text x="50%" y="22">mse = 0.0</text><text x="50%" y="42">samples = 2</text><text x="50%" y="62">value = 0.998</text></svg>
<svg x="6714" y="1939" width="193" height="92"><rect/><rect class="c" style="fill-opacity:.999"/><text x="50%" y="21">Sr Loading &lt;= 0.025</text><text x="50%" y="41">mse = 0.0</text><text x="50%" y="61">samples = 4</text><text x="50%" y="81">value = 0.999</text></svg>
<svg x="6670" y="2087" width="124" height="72"><rect/><rect class="c" style="fill-opacity:1"/><text x="50%" y="22">mse = 0.0</text><text x="50%" y="42">samples = 2</text><text x="50%" y="62">value = 1.0</text></svg>
<svg x="6820" y="2087" width="135" height="72"><rect/><rect class="c" style="fill-opacity:.998"/><text x="50%" y="22">mse = 0.0</text><text x="50%" y="42">samples = 2</text><text x="50%" y="62">value = 0.998</text></svg>
</svg>
</body></html>
